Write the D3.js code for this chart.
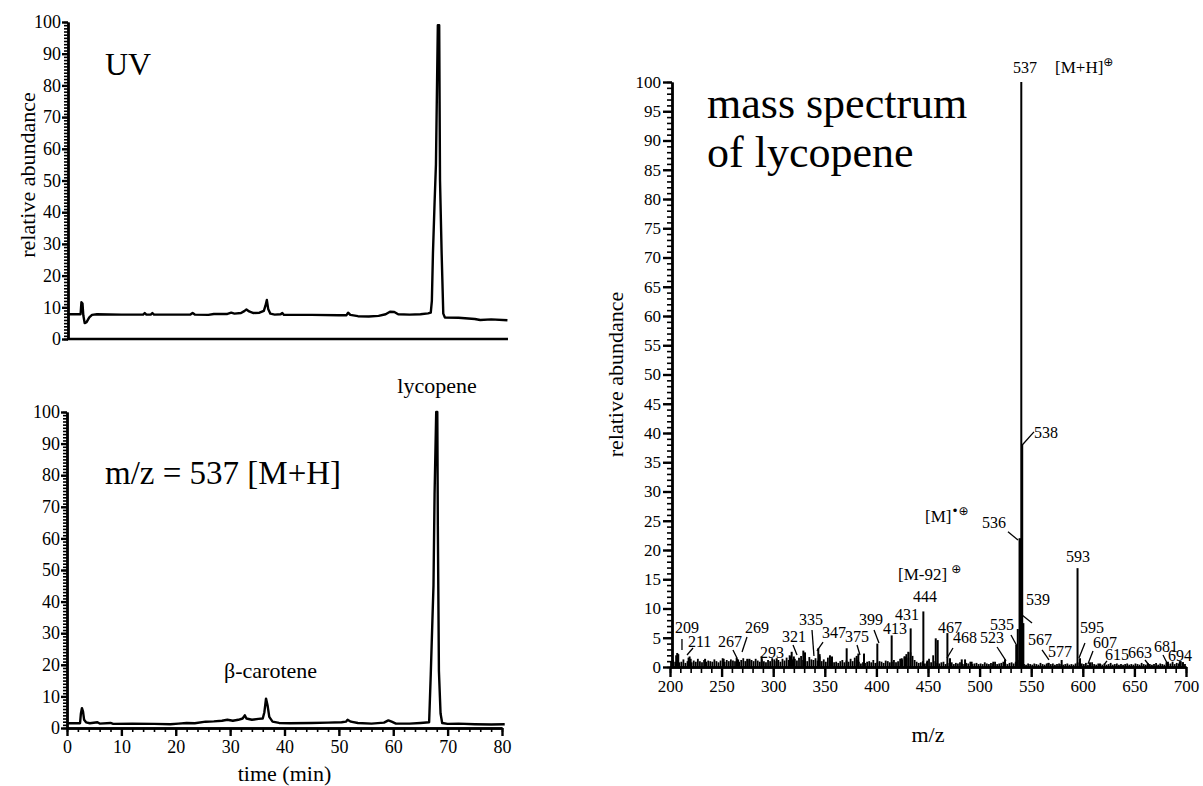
<!DOCTYPE html>
<meta charset="utf-8">
<style>
    body { margin: 0; background: #fff; }
    svg text { font-family: "Liberation Serif", "Times New Roman", serif; fill: #000; }
    .axis path, .axis line { stroke: #000; stroke-width: 2.4px; }
    .minor line { stroke-width: 1.6px; }
    .trace { fill: none; stroke: #000; stroke-width: 2.4px; stroke-linejoin: round; }
    .stick { stroke: #000; stroke-width: 2px; }
    .noise { stroke: #000; stroke-width: 1.8px; }
    .pointer { stroke: #000; stroke-width: 1.3px; }
</style>
<html>
<head>
    <script src="https://d3js.org/d3.v7.min.js"></script>
</head>
<body>
<svg id="chart" width="1203" height="786"></svg>
<script>
    // ---- data ----
    var timeTicks = [0, 10, 20, 30, 40, 50, 60, 70, 80];
    var abTicks = [0, 10, 20, 30, 40, 50, 60, 70, 80, 90, 100];
    var msYTicks = [0, 5, 10, 15, 20, 25, 30, 35, 40, 45, 50, 55, 60, 65, 70, 75, 80, 85, 90, 95, 100];
    var mzTicks = [200, 250, 300, 350, 400, 450, 500, 550, 600, 650, 700];

    // UV chromatogram [time (min), relative abundance]
    var uvTrace = [[0,7.8],[1,7.8],[2.5,7.8],[2.65,11.6],[2.85,11.2],[3.0,7.5],[3.25,5.0],[3.6,5.3],[4.1,6.8],[4.6,7.6],[5.5,7.8],
        [10,7.7],[14,7.7],[14.3,8.2],[14.6,7.7],[15.4,7.7],[15.7,8.2],[16,7.7],[22.7,7.7],[23.1,8.2],[23.5,7.7],[26,7.6],[27,7.9],
        [29.5,7.9],[30.2,8.3],[30.8,8.0],[32,8.2],[32.6,8.8],[33.0,9.3],[33.5,8.7],[34.3,8.2],[35.4,8.3],[36.2,8.9],[36.5,10.5],
        [36.75,12.3],[37.0,9.5],[37.4,8.0],[38.2,7.7],[39.3,7.8],[39.6,8.2],[39.9,7.6],[45,7.6],[50,7.5],[51.4,7.5],[51.7,8.3],
        [52.1,7.6],[53.5,7.2],[55.5,7.1],[57.3,7.3],[58.6,7.8],[59.4,8.6],[60.2,8.5],[60.9,7.8],[63,7.7],[65,7.8],[66.4,8.1],
        [66.9,8.3],[67.1,12],[67.3,27],[67.6,43],[67.85,55],[68.2,99],[68.45,99],[68.6,50],[68.9,27],[69.2,8],[69.5,6.8],
        [72,6.7],[75,6.3],[76,6.0],[78,6.2],[81,5.9]];

    // m/z = 537 ion trace [time (min), relative abundance]
    var sirTrace = [[0,1.5],[2.4,1.5],[2.55,4.5],[2.75,6.3],[2.95,5.2],[3.15,2.6],[3.5,1.8],[4.2,1.5],[5.6,1.8],[6,1.4],[8,1.6],
        [8.5,1.3],[12,1.4],[16,1.3],[19,1.2],[20.5,1.4],[22,1.6],[23.5,1.5],[25.5,2.0],[27,2.1],[28.5,2.3],[29.5,2.6],[30.5,2.3],
        [31.5,2.6],[32.3,3.0],[32.7,4.0],[33.0,3.0],[34,2.6],[35.2,2.9],[36.0,3.0],[36.3,5],[36.6,9.3],[36.9,7],[37.2,3.5],
        [37.8,2.0],[39,1.6],[41,1.5],[45,1.6],[48,1.7],[50.5,1.8],[51.3,2.0],[51.6,2.6],[52.2,2.0],[53.5,1.6],[56,1.4],[58.3,1.7],
        [59.1,2.4],[59.7,2.0],[60.5,1.4],[63,1.4],[65,1.6],[66.6,1.8],[66.9,17],[67.2,34],[67.4,45],[67.6,74],[67.9,100],
        [68.1,100],[68.2,64],[68.4,18],[68.7,4.6],[69.0,1.6],[70,1.3],[72,1.4],[75,1.2],[78,1.1],[80.5,1.2]];

    // mass spectrum sticks [m/z on axis, relative abundance]
    var msPeaks = [[206,2.0],[207,2.4],[208,2.2],[218,1.6],[219,1.8],[220,1.4],[234,1.4],[252,1.4],[264.6,1.6],[266,1.3],
        [275,1.4],[277,1.4],[288.8,1.8],[303.4,1.5],[316,2.0],[317.9,2.6],[320,1.8],[329.2,2.8],[330.8,2.5],[343.7,3.2],
        [345,2.2],[355,2.0],[357,1.8],[371.2,3.2],[380.9,1.9],[382.5,2.3],[388,2.3],[400.9,4.0],[414.8,5.4],[424.5,1.5],
        [427.7,1.8],[430.9,2.6],[433.2,6.6],[445.5,9.5],[449.4,1.1],[457.5,4.9],[459.4,4.6],[468.8,5.8],[471.3,1.5],
        [482.7,1.3],[485.9,1.3],[492.3,0.9],[513.3,0.9],[524.6,1.3],[535.5,3.8],[537,6.5],[538.7,22],[539.6,22],
        [540.4,100],[541.3,38],[542.4,7.5],[566.6,0.7],[579.5,1.2],[594.9,16.9],[597.3,1.5],[607,0.8],[616.7,0.6],
        [663,0.6],[682.5,0.9],[694,1.0],[697,0.8]];

    // background noise, one value every 2 m/z from 201
    var noiseStart = 201, noiseStep = 2;
    var noiseVals = [
        1.0,1.2,0.9,1.1,0.8,0.9,1.3,0.7,1.0,0.9, 0.8,1.1,0.9,1.4,1.0,0.8,1.2,0.9,1.1,1.0,
        0.9,1.3,1.0,0.8,1.1,1.5,0.9,1.2,1.0,1.3, 1.1,1.0,1.4,0.9,1.2,1.5,1.0,1.3,1.1,1.2,
        1.0,1.4,1.1,0.9,1.3,1.0,0.8,1.2,1.0,1.5, 1.3,1.0,1.2,0.9,1.4,1.1,1.6,1.2,1.8,1.3,
        1.4,1.1,1.6,1.9,1.2,1.5,1.0,1.7,1.3,1.2, 1.5,1.1,1.8,1.0,1.3,0.9,1.6,1.1,1.7,0.8,
        0.9,0.7,1.0,1.2,0.8,1.1,0.9,1.4,1.0,1.6, 1.2,0.9,0.6,0.8,0.7,0.9,1.0,0.8,1.2,0.7,
        0.8,1.0,0.9,0.7,1.1,1.0,0.8,0.9,1.2,0.8, 1.0,1.4,1.3,1.8,2.2,1.6,2.5,1.9,1.2,0.9,
        0.7,0.8,1.0,0.6,0.9,1.4,0.8,2.0,1.0,0.7, 0.6,0.8,0.9,0.5,0.7,0.6,0.8,0.5,0.7,0.6,
        0.8,0.6,0.5,0.7,0.6,0.9,0.5,0.6,0.7,0.5, 0.6,0.5,0.8,0.6,0.5,0.7,0.6,0.9,0.5,0.6,
        0.7,0.9,0.6,0.5,0.7,0.8,0.6,0.9,1.2,1.5, 0.6,0.5,0.4,0.6,0.5,0.4,0.6,0.5,0.4,0.7,
        0.5,0.4,0.6,0.7,0.5,0.6,0.4,0.5,0.6,0.5, 0.4,0.5,0.6,0.4,0.5,0.4,0.6,0.8,0.7,0.6,
        0.5,0.7,0.4,0.6,0.8,0.5,0.4,0.6,0.5,0.4, 0.6,0.4,0.5,0.7,0.4,0.5,0.6,0.4,0.5,0.4,
        0.5,0.6,0.4,0.5,0.4,0.6,0.5,0.4,0.7,0.5, 0.4,0.6,0.5,0.4,0.5,0.7,0.4,0.6,0.5,0.4,
        0.8,0.5,0.6,0.9,0.5,0.7,0.6,1.0,0.8,0.5];

    // peak label texts with where they sit (m/z, abundance of text baseline start)
    var msLabels = [["209",204.8,5.81],["211",217.4,3.42],["267",246.5,3.42],["269",272.7,5.81],["293",287.2,1.54],
        ["321",308.5,4.27],["335",325.0,7.18],["347",347.3,4.96],["375",369.6,4.27],["399",383.1,7.18],["413",406.4,5.64],
        ["431",418.0,8.03],["444",435.5,11.1],["467",459.7,5.81],["468",474.2,4.10],["523",500.4,4.10],["535",510.1,6.32],
        ["539",545.0,10.6],["536",502.3,23.8],["538",552.7,39.1],["537",532.4,101.5],["593",583.7,17.9],["595",597.3,5.81],
        ["567",546.9,3.76],["577",566.3,1.71],["607",609.9,3.25],["615",621.5,1.20],["663",643.8,1.54],["681",669.0,2.56],
        ["694",682.6,1.03]];
    var ionLabels = [["[M+H]","\u2295",573.1,101.5],["[M]","\u2022\u2295",447.1,24.8],["[M-92] ","\u2295",420.9,14.9]];
    var labelPointers = [[211.6,4.79,211.6,2.91],[222.3,3.25,216.5,2.05],[261.0,2.91,264.9,1.54],[274.6,5.13,269.8,2.56],
        [319.2,3.76,323.1,2.05],[337.6,6.32,339.5,1.88],[348.3,4.27,342.4,2.74],[381.2,3.76,384.1,2.05],[397.7,6.32,402.5,4.10],
        [474.2,3.25,468.4,1.54],[516.9,3.42,525.6,1.03],[530.4,5.47,536.2,3.59],[541.1,8.89,550.8,7.52],[527.5,23.1,537.2,21.7],
        [552.7,40.2,541.1,37.9],[602.1,4.10,596.3,1.54],[560.5,2.91,567.2,1.20],[609.9,2.74,605.0,0.51],[623.4,1.03,620.5,0.34],
        [660.3,1.20,664.1,0.34],[677.7,2.05,682.6,0.34]];

    // ---- drawing ----
    var serif = "'Liberation Serif', 'Times New Roman', serif";
    var svg = d3.select("#chart");
    svg.append("rect").attr("width", 1203).attr("height", 786).attr("fill", "#fff");

    var xT = d3.scaleLinear().domain([0, 80]).range([67, 502]);
    var yUV = d3.scaleLinear().domain([0, 100]).range([339, 22]);
    var ySir = d3.scaleLinear().domain([0, 100]).range([728, 412]);
    var xMz = d3.scaleLinear().domain([200, 700]).range([670, 1186]);
    var yAb = d3.scaleLinear().domain([0, 100]).range([667, 82]);

    function styleAxis(g, size) {
        g.attr("class", "axis").attr("font-family", serif).attr("font-size", size);
        g.selectAll("text").attr("fill", "#000").style("font-family", serif).style("font-size", size + "px");
    }

    function leftAxis(scale, x0, majors, step, major, minor, pad, size) {
        svg.append("g").attr("transform", "translate(" + x0 + ",0)")
            .call(d3.axisLeft(scale).tickValues(d3.range(0, 100.5, step)).tickSize(minor).tickFormat("").tickSizeOuter(0))
            .call(styleAxis, size).classed("minor", true);
        svg.append("g").attr("transform", "translate(" + x0 + ",0)")
            .call(d3.axisLeft(scale).tickValues(majors).tickSize(major).tickPadding(pad).tickSizeOuter(0))
            .call(styleAxis, size);
    }

    // UV panel
    leftAxis(yUV, 68, abTicks, 1, 6, 4, 1, 18);
    svg.append("line").attr("class", "axis")
        .attr("x1", xT(0)).attr("x2", xT(81.1)).attr("y1", yUV(0)).attr("y2", yUV(0))
        .style("stroke", "#000").style("stroke-width", "2.4px");

    var lineUV = d3.line().x(function (d) { return xT(d[0]); }).y(function (d) { return yUV(d[1]); });
    svg.append("path").attr("class", "trace").attr("d", lineUV(uvTrace));

    svg.append("text").attr("x", 105).attr("y", 75).attr("font-size", 32).text("UV");
    svg.append("text").attr("transform", "translate(35,175) rotate(-90)").attr("text-anchor", "middle")
        .attr("font-size", 22).text("relative abundance");

    // m/z 537 panel
    leftAxis(ySir, 67, abTicks, 1, 6, 4, 1, 18);
    svg.append("g").attr("transform", "translate(0," + ySir(0) + ")")
        .call(d3.axisBottom(xT).tickValues(d3.range(0, 81, 2)).tickSize(4).tickFormat("").tickSizeOuter(0))
        .call(styleAxis, 18).classed("minor", true);
    svg.append("g").attr("transform", "translate(0," + ySir(0) + ")")
        .call(d3.axisBottom(xT).tickValues(timeTicks).tickSize(8).tickPadding(4).tickSizeOuter(0))
        .call(styleAxis, 18);

    var lineSir = d3.line().x(function (d) { return xT(d[0]); }).y(function (d) { return ySir(d[1]); });
    svg.append("path").attr("class", "trace").attr("d", lineSir(sirTrace));

    svg.append("text").attr("x", 105).attr("y", 484).attr("font-size", 33).text("m/z = 537 [M+H]");
    svg.append("text").attr("x", 437).attr("y", 393).attr("text-anchor", "middle").attr("font-size", 22).text("lycopene");
    svg.append("text").attr("x", 224).attr("y", 678).attr("font-size", 22).text("\u03b2-carotene");
    svg.append("text").attr("x", (xT(0) + xT(80)) / 2).attr("y", 781).attr("text-anchor", "middle")
        .attr("font-size", 22).text("time (min)");

    // mass spectrum panel
    svg.append("g").attr("transform", "translate(672,0)")
        .call(d3.axisLeft(yAb).tickValues(d3.range(0, 100.5, 1)).tickSize(5).tickFormat("").tickSizeOuter(0))
        .call(styleAxis, 17).classed("minor", true);
    svg.append("g").attr("transform", "translate(672,0)")
        .call(d3.axisLeft(yAb).tickValues(msYTicks).tickSize(9).tickPadding(2).tickSizeOuter(0))
        .call(styleAxis, 17);

    var noise = noiseVals.map(function (v, i) { return [noiseStart + i * noiseStep, v]; });
    svg.append("g").selectAll("line").data(noise).join("line").attr("class", "noise")
        .attr("x1", function (d) { return xMz(d[0]); }).attr("x2", function (d) { return xMz(d[0]); })
        .attr("y1", yAb(0)).attr("y2", function (d) { return yAb(d[1]); });
    svg.append("g").selectAll("line").data(msPeaks).join("line").attr("class", "stick")
        .attr("x1", function (d) { return xMz(d[0]); }).attr("x2", function (d) { return xMz(d[0]); })
        .attr("y1", yAb(0)).attr("y2", function (d) { return yAb(d[1]); });

    svg.append("g").attr("transform", "translate(0," + yAb(0) + ")")
        .call(d3.axisBottom(xMz).tickValues(d3.range(200, 701, 10)).tickSize(6).tickFormat("").tickSizeOuter(0))
        .call(styleAxis, 17).classed("minor", true);
    svg.append("g").attr("transform", "translate(0," + yAb(0) + ")")
        .call(d3.axisBottom(xMz).tickValues(mzTicks).tickSize(10).tickPadding(3).tickSizeOuter(0))
        .call(styleAxis, 17);

    svg.append("g").selectAll("line").data(labelPointers).join("line").attr("class", "pointer")
        .attr("x1", function (d) { return xMz(d[0]); }).attr("y1", function (d) { return yAb(d[1]); })
        .attr("x2", function (d) { return xMz(d[2]); }).attr("y2", function (d) { return yAb(d[3]); });

    svg.append("g").selectAll("text").data(msLabels).join("text")
        .attr("x", function (d) { return xMz(d[1]); }).attr("y", function (d) { return yAb(d[2]); })
        .attr("font-size", 16).text(function (d) { return d[0]; });

    var ions = svg.append("g").selectAll("text").data(ionLabels).join("text")
        .attr("x", function (d) { return xMz(d[2]); }).attr("y", function (d) { return yAb(d[3]); })
        .attr("font-size", 17);
    ions.append("tspan").text(function (d) { return d[0]; });
    ions.append("tspan").attr("dy", -7).attr("font-size", 12)
        .style("font-family", "'DejaVu Sans', sans-serif").text(function (d) { return d[1]; });

    svg.append("text").attr("x", 707).attr("y", 118).attr("font-size", 44).text("mass spectrum");
    svg.append("text").attr("x", 707).attr("y", 167).attr("font-size", 44).text("of lycopene");
    svg.append("text").attr("transform", "translate(623," + ((yAb(0) + yAb(100)) / 2) + ") rotate(-90)")
        .attr("text-anchor", "middle").attr("font-size", 22).text("relative abundance");
    svg.append("text").attr("x", (xMz(200) + xMz(700)) / 2).attr("y", 742).attr("text-anchor", "middle")
        .attr("font-size", 22).text("m/z");
</script>
</body>
</html>
